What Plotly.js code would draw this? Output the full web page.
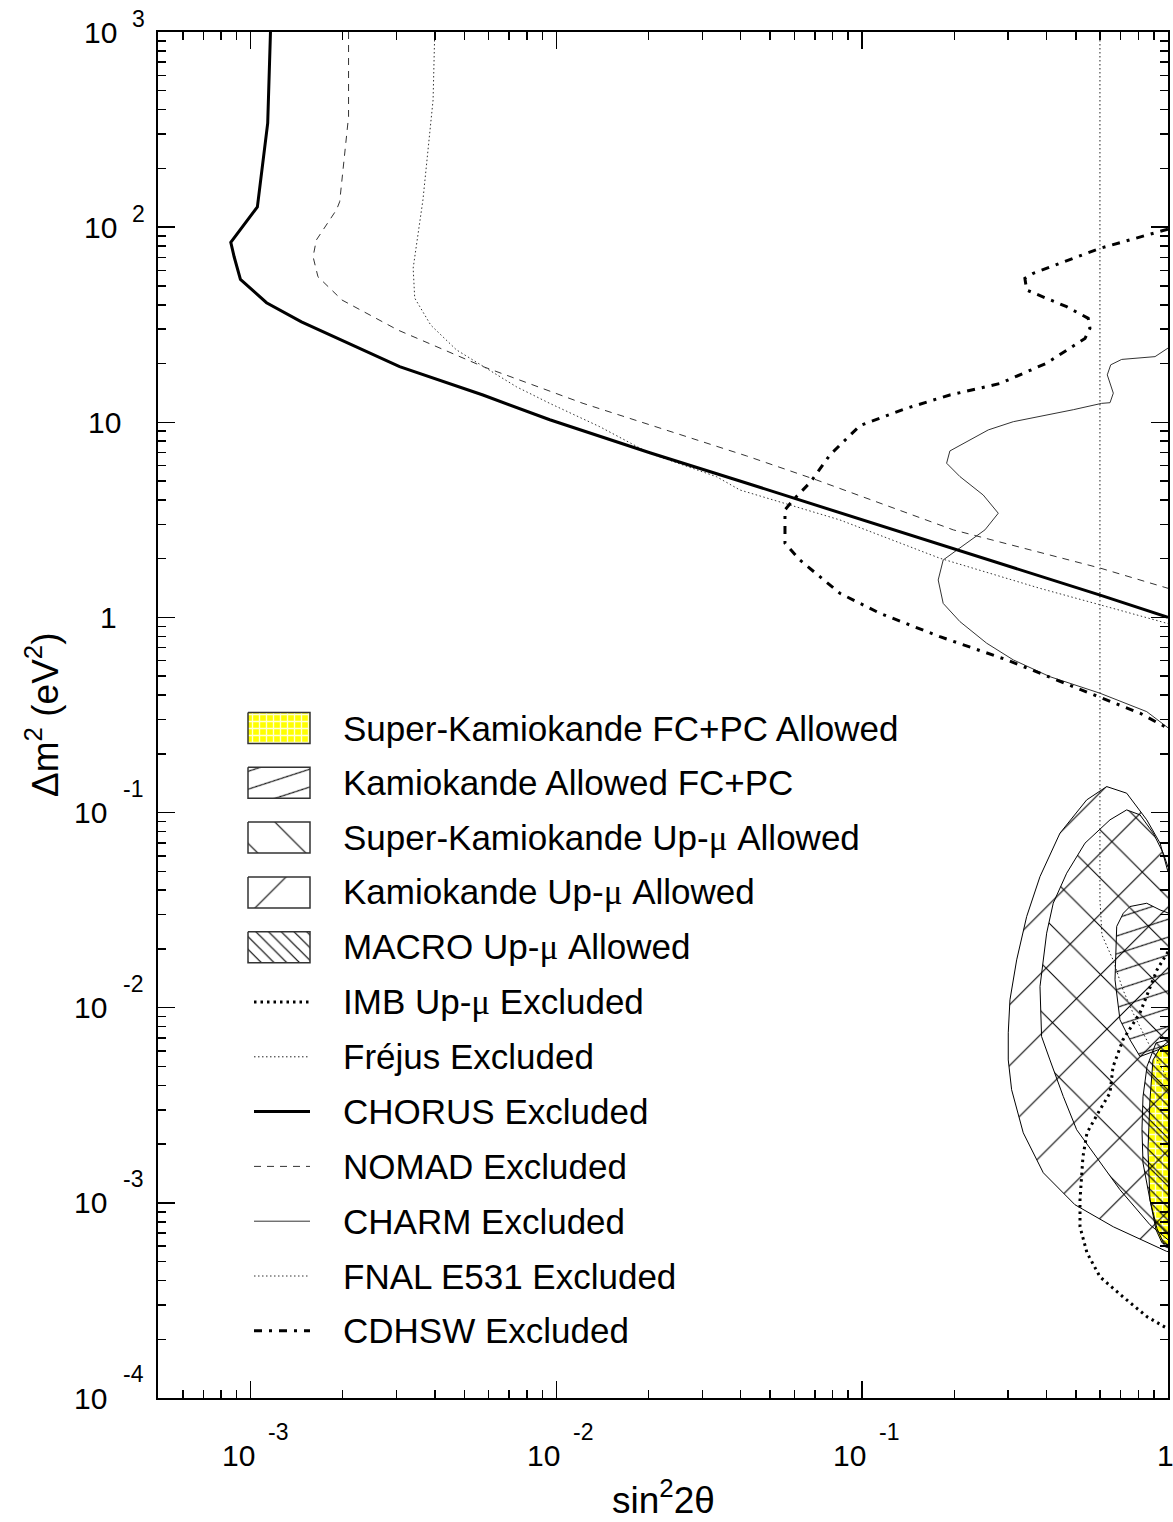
<!DOCTYPE html>
<html><head><meta charset="utf-8">
<script src="https://cdn.plot.ly/plotly-3.0.1.min.js"></script>
<style>html,body{margin:0;padding:0;background:#fff}</style>
</head><body>
<div id="chart" style="width:1173px;height:1522px"></div>
<script>
// ---- exclusion curves (x = sin^2 2θ, y = Δm^2 in eV^2) ----
const chorusX = [1.161e-3, 1.137e-3, 1.052e-3, 8.61e-4, 8.83e-4, 9.26e-4, 1.127e-3, 1.466e-3, 3.07e-3, 5.75e-3, 9.51e-3, 0.0202, 0.0398, 0.0593, 0.198, 0.600, 1.0];
const chorusY = [1000, 341, 127, 83.6, 70.5, 54.0, 41.0, 32.7, 19.3, 13.8, 10.3, 6.98, 5.0, 4.10, 2.27, 1.30, 1.0];

const nomadX = [2.09e-3, 2.09e-3, 1.955e-3, 1.91e-3, 1.64e-3, 1.60e-3, 1.66e-3, 1.99e-3, 3.03e-3, 5.75e-3, 0.01222, 0.0229, 0.0419, 0.0710, 0.1985, 0.600, 1.0];
const nomadY = [1000, 368, 135, 123, 85.9, 70.5, 55.7, 42.3, 29.7, 19.3, 12.5, 9.13, 6.72, 5.06, 2.81, 1.79, 1.41];

const e531X = [4.0e-3, 3.95e-3, 3.66e-3, 3.40e-3, 3.44e-3, 3.88e-3, 4.71e-3, 5.75e-3, 7.40e-3, 9.51e-3, 0.01386, 0.0202, 0.0334, 0.0398, 0.0845, 0.1795, 0.381, 0.630, 1.0];
const e531Y = [1000, 448, 138, 61.7, 43.3, 31.5, 23.5, 19.3, 15.2, 12.5, 9.49, 6.93, 5.26, 4.50, 3.16, 2.01, 1.41, 1.136, 0.93];

const cdhswX = [1.0, 0.599, 0.3625, 0.3404, 0.345, 0.4662, 0.5484, 0.5556, 0.5352, 0.401, 0.2821, 0.1935, 0.1397, 0.0984, 0.0784, 0.0679, 0.0595, 0.0559, 0.0559, 0.0625, 0.0845, 0.1142, 0.1795, 0.2969, 0.490, 0.810, 1.0];
const cdhswY = [97.7, 77.9, 58.0, 54.7, 47.6, 39.1, 34.1, 30.3, 26.9, 20.1, 15.8, 13.8, 11.8, 9.63, 6.80, 4.96, 4.00, 3.56, 2.40, 1.97, 1.33, 1.05, 0.797, 0.606, 0.442, 0.323, 0.27];

const charmX = [1.0, 0.907, 0.7056, 0.6497, 0.633, 0.6625, 0.6463, 0.6067, 0.490, 0.3119, 0.2584, 0.2196, 0.1935, 0.1888, 0.2087, 0.2487, 0.2786, 0.252, 0.184, 0.1772, 0.184, 0.2087, 0.2552, 0.3119, 0.411, 0.599, 0.852, 1.0];
const charmY = [24.0, 21.7, 21.0, 19.7, 17.5, 14.1, 12.6, 12.5, 11.6, 10.07, 9.14, 7.96, 7.13, 6.17, 5.27, 4.24, 3.42, 2.81, 1.97, 1.556, 1.18, 0.952, 0.738, 0.606, 0.497, 0.409, 0.329, 0.272];

const imbX = [1.0, 0.9206, 0.81, 0.7124, 0.661, 0.6462, 0.599, 0.5433, 0.527, 0.5155, 0.5155, 0.5433, 0.599, 0.7124, 0.854, 1.0];
const imbY = [0.01934, 0.01564, 0.00942, 0.00685, 0.00498, 0.00366, 0.0030, 0.002286, 0.00172, 0.001037, 0.000754, 0.000555, 0.000418, 0.00033, 0.000261, 0.000226];

const frejusX = [0.599, 0.599, 0.608, 0.661, 0.7124, 0.768, 0.841, 0.8865, 1.0];
const frejusY = [1000, 0.0357, 0.0236, 0.0176, 0.01235, 0.00942, 0.0071, 0.00609, 0.00427];

// ---- allowed regions (closed contours) ----
const kamUpmuX = [1.0, 0.942, 0.852, 0.7326, 0.6302, 0.542, 0.4432, 0.3814, 0.345, 0.320, 0.3042, 0.3003, 0.3003, 0.308, 0.3362, 0.391, 0.4963, 0.6625, 0.990, 1.0];
const kamUpmuY = [0.0497, 0.0697, 0.0918, 0.1257, 0.1359, 0.1161, 0.0784, 0.04699, 0.02932, 0.01759, 0.01098, 0.00744, 0.0054, 0.0038, 0.002286, 0.001426, 0.000978, 0.000754, 0.000564, 0.000563];

const skUpmuX = [1.0, 0.965, 0.895, 0.810, 0.7326, 0.6462, 0.5352, 0.4663, 0.4214, 0.401, 0.3814, 0.386, 0.4111, 0.4545, 0.5027, 0.5694, 0.6966, 0.873, 1.0];
const skUpmuY = [0.0525, 0.0619, 0.0784, 0.0973, 0.1032, 0.0918, 0.0697, 0.0489, 0.03434, 0.0241, 0.01284, 0.00712, 0.0054, 0.00351, 0.00237, 0.0018, 0.001167, 0.000772, 0.000647];

const kamFcpcX = [1.0, 0.942, 0.852, 0.751, 0.7143, 0.6796, 0.6710, 0.6966, 0.751, 0.810, 0.9296, 1.0];
const kamFcpcY = [0.0306, 0.0317, 0.0343, 0.0330, 0.0305, 0.0261, 0.0139, 0.00867, 0.00685, 0.00562, 0.00609, 0.00669];

const skFcpcX = [1.0, 0.942, 0.893, 0.873, 0.860, 0.873, 0.9136, 0.9558, 1.0];
const skFcpcY = [0.00646, 0.00623, 0.0054, 0.00337, 0.00187, 0.001037, 0.000728, 0.000624, 0.000610];

const macroX = [1.0, 0.9136, 0.854, 0.8284, 0.822, 0.8284, 0.873, 0.9206, 0.9777, 1.0];
const macroY = [0.00685, 0.0066, 0.00501, 0.0035, 0.00237, 0.0016, 0.001037, 0.000738, 0.000597, 0.000588];

// ---- axis tick labels: mantissa and exponent ----
const xTickVals = [1e-3, 1e-2, 1e-1, 1];
const xTickBase = ['10', '10', '10', '1'];
const xTickExp = ['-3', '-2', '-1', ''];
const yTickVals = [1e-4, 1e-3, 1e-2, 1e-1, 1, 10, 100, 1000];
const yTickBase = ['10', '10', '10', '10', '1', '10', '10', '10'];
const yTickExp = ['-4', '-3', '-2', '-1', '', '', '2', '3'];

// ---- legend entries ----
const MU = "<span style='font-family:Liberation Serif'>\u03bc</span>";
const legendLabels = [
  'Super-Kamiokande FC+PC Allowed',
  'Kamiokande Allowed FC+PC',
  'Super-Kamiokande Up-' + MU + ' Allowed',
  'Kamiokande Up-' + MU + ' Allowed',
  'MACRO Up-' + MU + ' Allowed',
  'IMB Up-' + MU + ' Excluded',
  'Fr\u00e9jus Excluded',
  'CHORUS Excluded',
  'NOMAD Excluded',
  'CHARM Excluded',
  'FNAL E531 Excluded',
  'CDHSW Excluded'
];

// ---- styles ----
const FONT = 'Liberation Sans, Arial, Helvetica, sans-serif';
const KAMFC_SIZE = 17;   // spacing of the shallow hatch, tilted after drawing
const patterns = {
  skFcpc: {shape: '+', size: 7, solidity: 0.35, fgcolor: '#ffffd8', bgcolor: '#ffff00', fillmode: 'replace'},
  kamFcpc: {shape: '/', size: KAMFC_SIZE, solidity: 1.1 / KAMFC_SIZE, fgcolor: '#000', bgcolor: 'rgba(0,0,0,0)', fillmode: 'replace'},
  skUpmu: {shape: '\\', size: 34, solidity: 1.1 / 34, fgcolor: '#000', bgcolor: 'rgba(0,0,0,0)', fillmode: 'replace'},
  kamUpmu: {shape: '/', size: 43, solidity: 1.1 / 43, fgcolor: '#000', bgcolor: 'rgba(0,0,0,0)', fillmode: 'replace'},
  macro: {shape: '\\', size: 9, solidity: 0.13, fgcolor: '#000', bgcolor: 'rgba(0,0,0,0)', fillmode: 'replace'}
};
const lines = {
  imb: {color: '#000', width: 3, dash: '2.5px,4px'},
  frejus: {color: '#222', width: 1, dash: '1.5px,2.5px'},
  chorus: {color: '#000', width: 3, dash: 'solid'},
  nomad: {color: '#333', width: 1, dash: '7px,6px'},
  charm: {color: '#333', width: 1, dash: 'solid'},
  e531: {color: '#333', width: 1, dash: '1.5px,2.5px'},
  cdhsw: {color: '#000', width: 3, dash: '8px,7px,3px,7px'}
};
const legendKeys = ['skFcpc', 'kamFcpc', 'skUpmu', 'kamUpmu', 'macro', 'imb', 'frejus', 'chorus', 'nomad', 'charm', 'e531', 'cdhsw'];

function region(xs, ys, pat, extra) {
  return Object.assign({
    type: 'scatter', mode: 'lines', x: xs, y: ys, fill: 'toself',
    fillcolor: 'rgba(0,0,0,0)', fillpattern: pat,
    line: {color: '#000', width: 1}, hoverinfo: 'skip', showlegend: false
  }, extra || {});
}
function curve(xs, ys, ln) {
  return {type: 'scatter', mode: 'lines', x: xs, y: ys, line: ln, hoverinfo: 'skip', showlegend: false};
}

const traces = [
  region(skFcpcX, skFcpcY, patterns.skFcpc, {fillcolor: '#ffff00'}),
  region(kamUpmuX, kamUpmuY, patterns.kamUpmu),
  region(skUpmuX, skUpmuY, patterns.skUpmu),
  region(kamFcpcX, kamFcpcY, patterns.kamFcpc),
  region(macroX, macroY, patterns.macro),
  curve(frejusX, frejusY, lines.frejus),
  curve(e531X, e531Y, lines.e531),
  curve(nomadX, nomadY, lines.nomad),
  curve(charmX, charmY, lines.charm),
  curve(cdhswX, cdhswY, lines.cdhsw),
  curve(imbX, imbY, lines.imb),
  curve(chorusX, chorusY, lines.chorus)
];

// ---- legend key, drawn on an overlay axis pair measured in pixels of the frame ----
const PLOT_L = 158, PLOT_R = 1168, PLOT_T = 32, PLOT_B = 1398;
const KEY_X0 = 248, KEY_X1 = 310, KEY_H = 31, LINE_X0 = 254, TEXT_X = 342;
const ROW0 = 728, ROW_STEP = 54.8;
const annotations = [];
legendKeys.forEach((k, i) => {
  const yc = ROW0 + i * ROW_STEP;
  if (patterns[k]) {
    traces.push({
      type: 'scatter', mode: 'lines', xaxis: 'x2', yaxis: 'y2',
      x: [KEY_X0, KEY_X1, KEY_X1, KEY_X0, KEY_X0],
      y: [yc - KEY_H / 2, yc - KEY_H / 2, yc + KEY_H / 2, yc + KEY_H / 2, yc - KEY_H / 2],
      fill: 'toself', fillcolor: k === 'skFcpc' ? '#ffff00' : 'rgba(0,0,0,0)', fillpattern: patterns[k],
      line: {color: '#333', width: 1.5}, hoverinfo: 'skip', showlegend: false
    });
  } else {
    traces.push({
      type: 'scatter', mode: 'lines', xaxis: 'x2', yaxis: 'y2',
      x: [LINE_X0, KEY_X1], y: [yc, yc], line: lines[k], hoverinfo: 'skip', showlegend: false
    });
  }
  annotations.push({
    xref: 'x2', yref: 'y2', x: TEXT_X, y: yc, xanchor: 'left', yanchor: 'middle', borderpad: 0,
    text: legendLabels[i], showarrow: false, font: {family: FONT, size: 35, color: '#000'}
  });
});

// ---- tick labels as mantissa + raised exponent ----
const TICK_FONT = 30, EXP_FONT = 23;
function lbl(opts) {
  return Object.assign({showarrow: false, borderpad: 0, font: {family: FONT, size: TICK_FONT, color: '#000'}}, opts);
}
xTickVals.forEach((v, i) => {
  const lx = Math.log10(v);
  if (xTickExp[i]) {
    annotations.push(lbl({xref: 'x', yref: 'paper', x: lx, y: 0, xanchor: 'right', yanchor: 'middle',
      xshift: 5, yshift: -57, text: xTickBase[i]}));
    annotations.push(lbl({xref: 'x', yref: 'paper', x: lx, y: 0, xanchor: 'left', yanchor: 'middle',
      xshift: 16, yshift: -34, text: xTickExp[i], font: {family: FONT, size: EXP_FONT, color: '#000'}}));
  } else {
    annotations.push(lbl({xref: 'x', yref: 'paper', x: lx, y: 0, xanchor: 'center', yanchor: 'middle',
      xshift: -3, yshift: -57, text: xTickBase[i]}));
  }
});
yTickVals.forEach((v, i) => {
  const ly = Math.log10(v);
  const e = yTickExp[i];
  const neg = e.charAt(0) === '-';
  const baseShift = e ? (neg ? -50 : -40) : (yTickBase[i] === '10' ? -36 : -40);
  annotations.push(lbl({xref: 'paper', yref: 'y', x: 0, y: ly, xanchor: 'right', yanchor: 'middle',
    xshift: baseShift, yshift: 0, text: yTickBase[i]}));
  if (e) {
    annotations.push(lbl({xref: 'paper', yref: 'y', x: 0, y: ly, xanchor: 'left', yanchor: 'middle',
      xshift: neg ? -36 : -27, yshift: neg ? 24 : 13, text: e, font: {family: FONT, size: EXP_FONT, color: '#000'}}));
  }
});

// ---- axis titles ----
annotations.push({xref: 'paper', yref: 'paper', x: 0.5, y: 0, xanchor: 'center', yanchor: 'middle', yshift: -99,
  showarrow: false, borderpad: 0, text: 'sin<sup>2</sup>2\u03b8', font: {family: FONT, size: 37, color: '#000'}});
annotations.push({xref: 'paper', yref: 'paper', x: 0, y: 0.5, xanchor: 'center', yanchor: 'middle', xshift: -116,
  textangle: -90, showarrow: false, borderpad: 0, text: '\u0394m<sup>2</sup> (eV<sup>2</sup>)',
  font: {family: FONT, size: 37, color: '#000'}});

function minorVals(lo, hi) {
  const v = [];
  for (let d = Math.floor(lo); d < Math.ceil(hi); d++)
    for (let m = 2; m <= 9; m++) {
      const val = m * Math.pow(10, d);
      if (Math.log10(val) >= lo && Math.log10(val) <= hi) v.push(val);
    }
  return v;
}
const XR = [-3.303, 0], YR = [-4, 3];

const axisCommon = {
  type: 'log', showline: true, linecolor: '#000', linewidth: 2, mirror: 'allticks',
  ticks: 'inside', ticklen: 17, tickwidth: 1.5, tickcolor: '#000', showgrid: false, zeroline: false,
  tickmode: 'array', showticklabels: false
};

const layout = {
  width: 1173, height: 1522,
  margin: {l: PLOT_L, r: 1173 - PLOT_R, t: PLOT_T, b: 1522 - PLOT_B},
  paper_bgcolor: '#fff', plot_bgcolor: '#fff', showlegend: false,
  font: {family: FONT, color: '#000'},
  xaxis: Object.assign({}, axisCommon, {
    range: XR, tickvals: xTickVals,
    minor: {tickvals: minorVals(XR[0], XR[1]), ticks: 'inside', ticklen: 8, tickwidth: 1.5, tickcolor: '#000'}
  }),
  yaxis: Object.assign({}, axisCommon, {
    range: YR, tickvals: yTickVals,
    minor: {tickvals: minorVals(YR[0], YR[1]), ticks: 'inside', ticklen: 8, tickwidth: 1.5, tickcolor: '#000'}
  }),
  xaxis2: {overlaying: 'x', anchor: 'y2', range: [PLOT_L, PLOT_R], visible: false, fixedrange: true},
  yaxis2: {overlaying: 'y', anchor: 'x2', range: [PLOT_B, PLOT_T], visible: false, fixedrange: true},
  annotations: annotations
};

Plotly.newPlot('chart', traces, layout, {staticPlot: true}).then(gd => {
  // tilt the Kamiokande FC+PC hatch to its shallow angle
  const w = KAMFC_SIZE * Math.SQRT2;
  gd.querySelectorAll('pattern').forEach(p => {
    if (Math.abs(parseFloat(p.getAttribute('width')) - w) < 0.05) p.setAttribute('patternTransform', 'rotate(27)');
  });
});
</script>
</body></html>
